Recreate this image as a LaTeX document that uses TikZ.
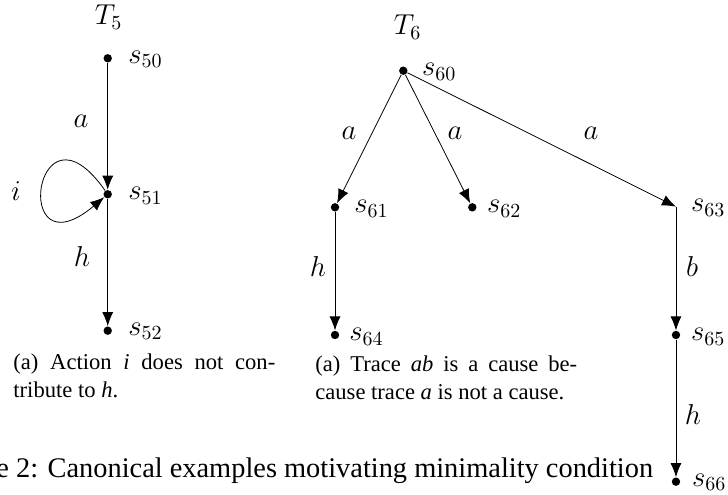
\documentclass[tikz,border=0pt]{standalone}
\usepackage[no-math]{fontspec}
\setmainfont{Liberation Serif}
\usetikzlibrary{arrows.meta}

\tikzset{
    state/.style={circle, fill, inner sep=0pt, minimum size=4.2pt},
    slabel/.style={anchor=base west, inner sep=0pt, font=\fontsize{14.4}{17}\selectfont},
    elabel/.style={inner sep=0pt, font=\fontsize{14.4}{17}\selectfont},
    trans/.style={-{Latex[length=7pt,width=5.5pt]}},
    subcap/.style={anchor=base west, inner sep=0pt, text width=131pt, align=justify,
        font=\fontsize{11.3}{14.5}\selectfont},
}

\begin{document}
\begin{tikzpicture}

    \useasboundingbox (0, 0) rectangle (12.8, 8.703);

    % Árbol T5
    \node[elabel, anchor=base] (t5) at (1.908, 8.264) {$T_5$};
    \node[state] (s50) at (1.894, 7.678) {};
    \node[state] (s51) at (1.894, 5.287) {};
    \node[state] (s52) at (1.894, 2.889) {};
    \node[slabel] (l50) at (2.250, 7.587) {$s_{50}$};
    \node[slabel] (l51) at (2.250, 5.187) {$s_{51}$};
    \node[slabel] (l52) at (2.250, 2.804) {$s_{52}$};

    % Transiciones de T5
    \draw[trans] (s50) -- (s51);
    \draw[trans] (s51) -- (s52);
    \draw[trans] (s51) .. controls +(125:2.25) and +(220:2.25) .. (s51);
    \node[elabel] (ea5) at (1.424, 6.576) {$a$};
    \node[elabel] (ei5) at (0.281, 5.345) {$i$};
    \node[elabel] (eh5) at (1.442, 4.185) {$h$};

    % Árbol T6
    \node[elabel, anchor=base] (t6) at (7.168, 8.088) {$T_6$};
    \node[state] (s60) at (7.091, 7.460) {};
    \node[state] (s61) at (5.890, 5.058) {};
    \node[state] (s62) at (8.304, 5.058) {};
    \coordinate (s63) at (11.885, 5.069);
    \node[state] (s64) at (5.890, 2.813) {};
    \node[state] (s65) at (11.885, 2.813) {};
    \node[state] (s66) at (11.885, 0.234) {};
    \node[slabel] (l60) at (7.414, 7.367) {$s_{60}$};
    \node[slabel] (l61) at (6.224, 4.958) {$s_{61}$};
    \node[slabel] (l62) at (8.557, 4.958) {$s_{62}$};
    \node[slabel] (l63) at (12.144, 4.976) {$s_{63}$};
    \node[slabel] (l64) at (6.136, 2.708) {$s_{64}$};
    \node[slabel] (l65) at (12.144, 2.708) {$s_{65}$};
    \node[slabel] (l66) at (12.161, 0.158) {$s_{66}$};

    % Transiciones de T6
    \draw[trans] (s60) -- (s61);
    \draw[trans] (s60) -- (s62);
    \draw[trans] (s60) -- (s63);
    \draw[trans] (s61) -- (s64);
    \draw[trans] (s63) -- (s65);
    \draw[trans] (s65) -- (s66);
    \node[elabel] (ea61) at (6.136, 6.365) {$a$};
    \node[elabel] (ea62) at (8.000, 6.365) {$a$};
    \node[elabel] (ea63) at (10.391, 6.365) {$a$};
    \node[elabel] (eh64) at (5.591, 4.009) {$h$};
    \node[elabel] (eb65) at (12.167, 4.009) {$b$};
    \node[elabel] (eh66) at (12.184, 1.407) {$h$};

    % Subtítulos
    \node[subcap] (cap5) at (0.229, 2.215)
        {(a) Action \textit{i} does not con-\linebreak tribute to \textit{h}.};
    \node[subcap] (cap6) at (5.538, 2.180)
        {(a) Trace \textit{ab} is a cause be-\linebreak cause trace \textit{a} is not a cause.};

    % Pie de figura (recortado)
    \node[anchor=base west, inner sep=0pt, font=\fontsize{14.2}{17}\selectfont] (fig)
        at (-0.070, 0.316) {e 2: Canonical examples motivating minimality condition};

\end{tikzpicture}
\end{document}
